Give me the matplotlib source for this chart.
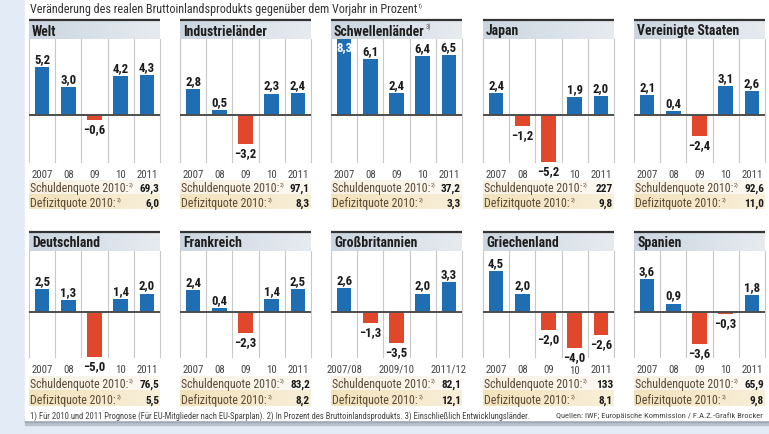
import matplotlib
matplotlib.use('Agg')
import matplotlib.pyplot as plt
import matplotlib.font_manager as fm
from matplotlib.patches import Rectangle
from matplotlib.colors import LinearSegmentedColormap
import numpy as np

# ---------------- data ----------------
years = ['2007', '08', '09', '10', '2011']
years_gb = ['2007/08', '2009/10', '2011/12']

panel_names = ['Welt', 'Industrieländer', 'Schwellenländer', 'Japan', 'Vereinigte Staaten',
               'Deutschland', 'Frankreich', 'Großbritannien', 'Griechenland', 'Spanien']
panel_notes = ['', '', '3)', '', '', '', '', '', '', '']

welt = [5.2, 3.0, -0.6, 4.2, 4.3]
industrielaender = [2.8, 0.5, -3.2, 2.3, 2.4]
schwellenlaender = [8.3, 6.1, 2.4, 6.4, 6.5]
japan = [2.4, -1.2, -5.2, 1.9, 2.0]
usa = [2.1, 0.4, -2.4, 3.1, 2.6]
deutschland = [2.5, 1.3, -5.0, 1.4, 2.0]
frankreich = [2.4, 0.4, -2.3, 1.4, 2.5]
grossbritannien = [2.6, -1.3, -3.5, 2.0, 3.3]
griechenland = [4.5, 2.0, -2.0, -4.0, -2.6]
spanien = [3.6, 0.9, -3.6, -0.3, 1.8]

schulden = ['69,3', '97,1', '37,2', '227', '92,6', '76,5', '83,2', '82,1', '133', '65,9']
defizit = ['6,0', '8,3', '3,3', '9,8', '11,0', '5,5', '8,2', '12,1', '8,1', '9,8']

header = 'Veränderung des realen Bruttoinlandsprodukts gegenüber dem Vorjahr in Prozent'
footnote = ('1) Für 2010 und 2011 Prognose (Für EU-Mitglieder nach EU-Sparplan). '
            '2) In Prozent des Bruttoinlandsprodukts. 3) Einschließlich Entwicklungsländer.')
source = 'Quellen: IWF; Europäische Kommission / F.A.Z.-Grafik Brocker'

series = [welt, industrielaender, schwellenlaender, japan, usa,
          deutschland, frankreich, grossbritannien, griechenland, spanien]

# ---------------- fonts ----------------
names = {f.name for f in fm.fontManager.ttflist}
FONT = 'DejaVu Sans'
for cand in ['Liberation Sans Narrow', 'Roboto Condensed', 'Open Sans Condensed', 'Liberation Sans']:
    if cand in names:
        FONT = cand
        break
plt.rcParams['font.family'] = [FONT, 'DejaVu Sans']

W, H = 769, 435
fig = plt.figure(figsize=(W / 100, H / 100), dpi=100)
fig.patch.set_facecolor('#e3ecf6')
R = fig.canvas.get_renderer()


def width_px(txt, fs, weight='normal'):
    t = fig.text(0, 0, txt, fontsize=fs, fontweight=weight)
    w = t.get_window_extent(renderer=R).width
    t.remove()
    return w


def fit(txt, px, weight='normal'):
    return 10 * px / width_px(txt, 10, weight)


hdr_fs = fit(header, 386)
title_fs = fit('Industrieländer', 84, 'bold')
row_fs = fit('Schuldenquote 2010:', 98)
rowv_fs = fit('97,1', 20, 'bold')
tick_fs = fit('2007', 21)
val_fs = fit('5,2', 16, 'bold')
foot_fs = fit(footnote, 505)
src_fs = fit(source, 206)

# overlay in pixel coordinates
bg = fig.add_axes([0, 0, 1, 1], zorder=0)
bg.set_xlim(0, W)
bg.set_ylim(H, 0)
bg.axis('off')


def text_sup(x, y, txt, sup, fs, color, weight='normal', sup_color=None, z=5):
    bg.text(x, y, txt, fontsize=fs, color=color, fontweight=weight, va='center', ha='left', zorder=z)
    if sup:
        w = width_px(txt, fs, weight)
        bg.text(x + w + 0.6, y - fs * 0.42, sup, fontsize=fs * 0.5,
                color=sup_color or color, va='center', ha='left', zorder=z)


# card with shadow
bg.add_patch(Rectangle((25, 419), W - 25, 7, color='#b8c0ca', zorder=0))
bg.add_patch(Rectangle((25, 419), W - 25, 4, color='#9ea8b3', zorder=0.1))
bg.add_patch(Rectangle((25, 0), W - 25, 421, color='white', zorder=0.2))

text_sup(30, 10, header, '1)', hdr_fs, '#333333')
bg.text(30, 416, footnote, fontsize=foot_fs, color='#444444', va='center', ha='left', zorder=5)
bg.text(763, 416, source, fontsize=src_fs, color='#444444', va='center', ha='right', zorder=5)

lefts = [29, 180, 331, 483, 634]
PW = 131
rows_geo = [
    dict(t0=20, t1=40, c0=40, c1=163, tick=174.5, r1=(181, 195), r2=(195.8, 210), ylim=(-5.2, 8.3)),
    dict(t0=232, t1=252, c0=252, c1=358, tick=370, r1=(377, 391), r2=(391.8, 407), ylim=(-5.0, 6.7)),
]

BLUE = '#1f6eb4'
RED = '#e0472b'
grad = np.linspace(0, 1, 64).reshape(1, -1)
tcmap = LinearSegmentedColormap.from_list('t', ['#cbd5df', '#e6ebf0'])
r1map = LinearSegmentedColormap.from_list('r1', ['#f8f1e2', '#fcf9f3'])
r2map = LinearSegmentedColormap.from_list('r2', ['#f3e3bc', '#f8efd9'])

for i, (name, note, vals) in enumerate(zip(panel_names, panel_notes, series)):
    g = rows_geo[i // 5]
    x0 = lefts[i % 5]
    x1 = x0 + PW
    # title bar
    bg.imshow(grad, cmap=tcmap, extent=(x0, x1, g['t1'], g['t0']), aspect='auto', zorder=1)
    bg.plot([x0, x1], [g['t0'] + 0.8, g['t0'] + 0.8], color='#333333', lw=1.6, zorder=2,
            solid_capstyle='butt')
    text_sup(x0 + 3, (g['t0'] + g['t1']) / 2 + 1.5, name, note, title_fs, '#1e1e1e',
             weight='bold', sup_color='#555555', z=3)
    # rows
    bg.imshow(grad, cmap=r1map, extent=(x0, x1, g['r1'][1], g['r1'][0]), aspect='auto', zorder=1)
    bg.imshow(grad, cmap=r2map, extent=(x0, x1, g['r2'][1], g['r2'][0]), aspect='auto', zorder=1)
    yc1 = sum(g['r1']) / 2 + 1
    yc2 = sum(g['r2']) / 2 + 1
    text_sup(x0 + 1, yc1, 'Schuldenquote 2010:', '2)', row_fs, '#5b4a38', z=3)
    bg.text(x1 - 1, yc1, schulden[i], fontsize=rowv_fs, fontweight='bold', color='#1a1a1a',
            va='center', ha='right', zorder=3)
    text_sup(x0 + 1, yc2, 'Defizitquote 2010:', '2)', row_fs, '#5b4a38', z=3)
    bg.text(x1 - 1, yc2, defizit[i], fontsize=rowv_fs, fontweight='bold', color='#1a1a1a',
            va='center', ha='right', zorder=3)

    # chart
    ax = fig.add_axes([x0 / W, 1 - g['c1'] / H, PW / W, (g['c1'] - g['c0']) / H], zorder=2)
    ax.set_facecolor('white')
    x = np.arange(len(vals))
    ax.set_xlim(-0.5, len(vals) - 0.5)
    ax.set_ylim(*g['ylim'])
    for s in ax.spines.values():
        s.set_visible(False)
    for b in np.arange(-0.5, len(vals), 1.0):
        ax.axvline(b, color='#c8c8c8', lw=0.8, zorder=0.5, clip_on=False)
    colors = [BLUE if v >= 0 else RED for v in vals]
    ax.bar(x, vals, width=0.56, color=colors, zorder=2)
    ax.axhline(0, color='#4d4d4d', lw=1.4, zorder=3)
    ax.set_yticks([])
    if name == 'Großbritannien':
        tpos = [0, 2, 4]
        ax.set_xticks(tpos, years_gb)
    else:
        tpos = list(x)
        ax.set_xticks(tpos, years)
    pad_pt = (g['tick'] - g['c1']) * 72 / 100
    ax.tick_params(axis='x', length=0, pad=pad_pt, labelsize=tick_fs, labelcolor='#444444')
    bottom, top = g['ylim']
    ticklabs = ax.get_xticklabels()
    for lab in ticklabs:
        lab.set_va('center')
    for xi, v in zip(x, vals):
        lab = f'{v:.1f}'.replace('.', ',').replace('-', '\u2212')
        if v > top - 1.0:
            ax.annotate(lab, (xi, v), xytext=(0, -1), textcoords='offset points',
                        ha='center', va='top', fontsize=val_fs, fontweight='bold',
                        color='white', zorder=5)
        elif v >= 0:
            ax.annotate(lab, (xi, v), xytext=(0, 1.5), textcoords='offset points',
                        ha='center', va='bottom', fontsize=val_fs, fontweight='bold',
                        color='#1a1a1a', zorder=5, annotation_clip=False)
        else:
            ax.annotate(lab, (xi, v), xytext=(0, -1.5), textcoords='offset points',
                        ha='center', va='top', fontsize=val_fs, fontweight='bold',
                        color='#1a1a1a', zorder=5, annotation_clip=False)
            if xi in tpos:
                tl = ticklabs[tpos.index(xi)]
                if v < bottom + 0.4:
                    tl.set_visible(False)
                elif v < bottom + 1.2:
                    tl.set_y(-0.012)

fig.savefig('out.png', dpi=100, facecolor=fig.get_facecolor())
